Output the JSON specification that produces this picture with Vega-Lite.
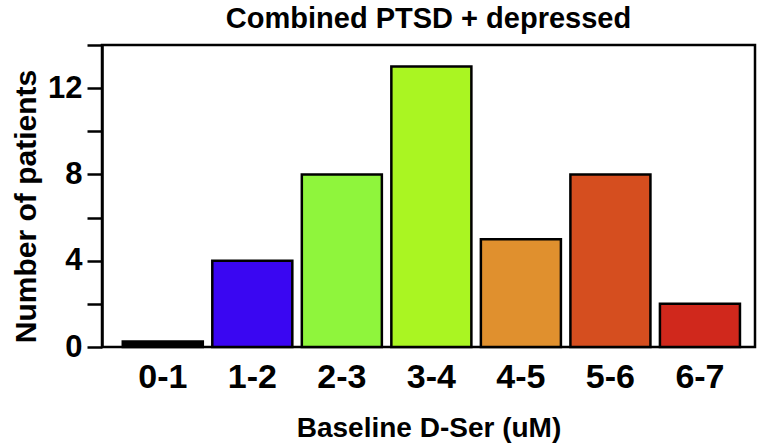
{
  "$schema": "https://vega.github.io/schema/vega-lite/v6.json",
  "autosize": "none",
  "width": 653,
  "height": 302,
  "padding": {"left": 102, "top": 45, "right": 7, "bottom": 101},
  "background": "white",
  "config": {
    "font": "Liberation Sans",
    "view": {"stroke": "black", "strokeWidth": 2.5}
  },
  "title": {
    "text": "Combined PTSD + depressed",
    "fontSize": 29,
    "fontWeight": "bold",
    "font": "Liberation Sans",
    "color": "black",
    "anchor": "middle",
    "offset": 10
  },
  "data": {
    "values": [
      {"bin": "0-1", "count": 0.25, "color": "#000000"},
      {"bin": "1-2", "count": 4, "color": "#3a06f2"},
      {"bin": "2-3", "count": 8, "color": "#8ff53c"},
      {"bin": "3-4", "count": 13, "color": "#aaf522"},
      {"bin": "4-5", "count": 5, "color": "#e0902e"},
      {"bin": "5-6", "count": 8, "color": "#d54e1f"},
      {"bin": "6-7", "count": 2, "color": "#d0281c"}
    ]
  },
  "mark": {"type": "bar", "stroke": "black", "strokeWidth": 2.5},
  "encoding": {
    "x": {
      "field": "bin",
      "type": "nominal",
      "sort": null,
      "scale": {"paddingInner": 0.106, "paddingOuter": 0.2, "align": 0.58},
      "axis": {
        "title": "Baseline D-Ser (uM)",
        "titleFontSize": 28,
        "titleFontWeight": "bold",
        "titleColor": "black",
        "titlePadding": 20,
        "labelAngle": 0,
        "labelFontSize": 34,
        "labelFontWeight": "bold",
        "labelColor": "black",
        "labelPadding": 13,
        "ticks": false,
        "domain": false
      }
    },
    "y": {
      "field": "count",
      "type": "quantitative",
      "scale": {"domain": [0, 14], "nice": false},
      "axis": {
        "title": "Number of patients",
        "titleFontSize": 30,
        "titleFontWeight": "bold",
        "titleColor": "black",
        "titlePadding": 6,
        "titleY": 161,
        "values": [0, 2, 4, 6, 8, 10, 12, 14],
        "labelExpr": "datum.value % 4 === 0 && datum.value < 14 ? datum.label : ''",
        "labelFontSize": 31,
        "labelFontWeight": "bold",
        "labelColor": "black",
        "labelPadding": 5,
        "tickSize": 15,
        "tickWidth": 2.5,
        "tickColor": "black",
        "domainColor": "black",
        "domainWidth": 2.5,
        "grid": false
      }
    },
    "fill": {"field": "color", "type": "nominal", "scale": null, "legend": null}
  }
}
